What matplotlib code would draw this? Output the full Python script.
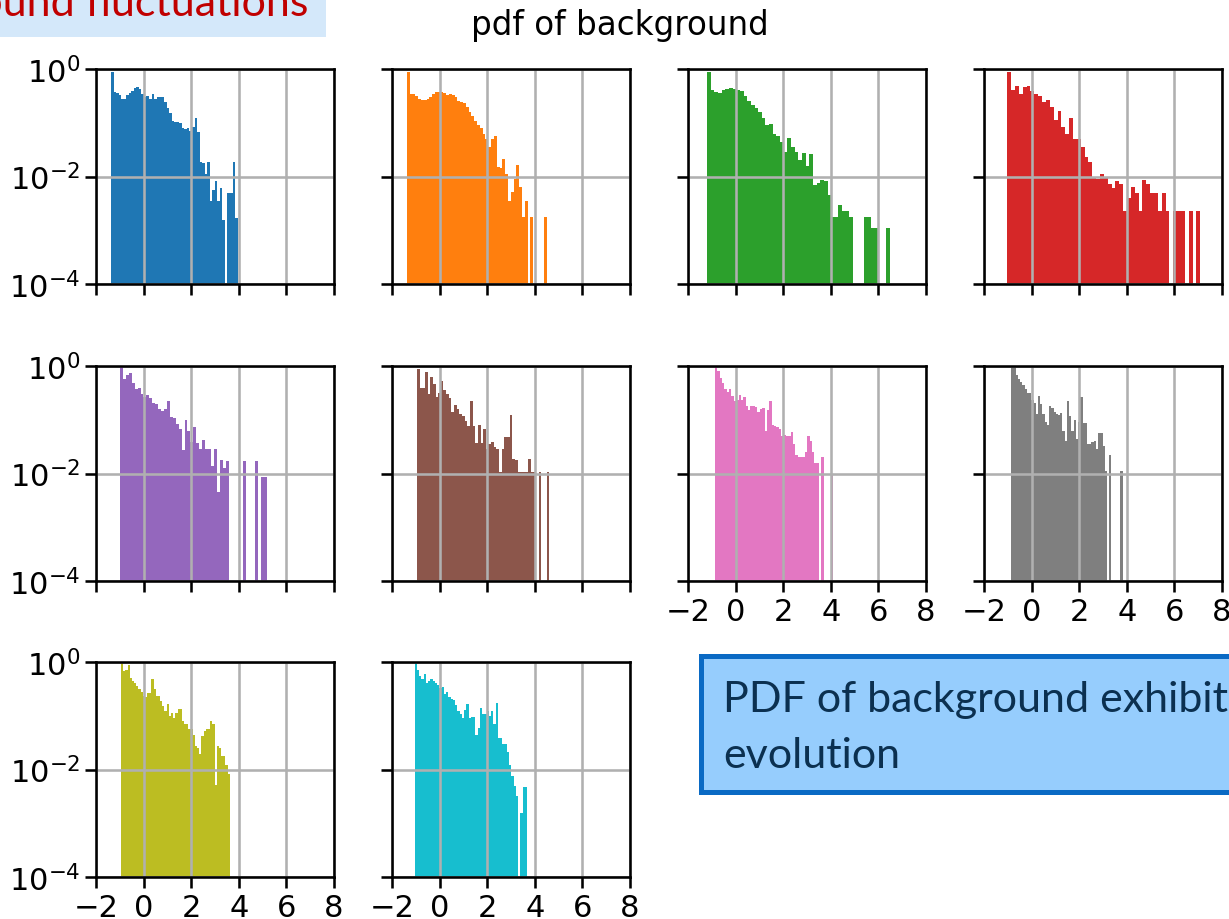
import numpy as np
import matplotlib
matplotlib.use("Agg")
import matplotlib.pyplot as plt
from matplotlib.patches import Rectangle
from matplotlib.ticker import NullLocator

# histogram range (first / last bin edge) and log10(pdf) of the 50 bins, None = empty bin
ranges = [(-1.37, 3.95), (-1.37, 4.52), (-1.20, 6.47), (-1.02, 7.09), (-0.99, 5.17),
          (-0.95, 4.61), (-0.87, 4.10), (-0.85, 3.82), (-0.95, 3.62), (-1.05, 3.68)]

logpdf_0 = [-0.05, -0.42, -0.45, -0.48, -0.55, -0.55, -0.48, -0.45, -0.40, -0.35,
            -0.33, -0.38, -0.46, -0.52, -0.50, -0.55, -0.47, -0.55, -0.52, -0.52,
            -0.52, -0.62, -0.72, -0.82, -0.96, -0.98, -0.98, -1.00, -1.10, -1.12,
            -1.10, -1.15, -1.08, -0.92, -1.17, -1.73, -1.75, -1.95, -1.73, -2.45,
            -2.25, -2.09, -2.45, -2.22, -2.80, None, -2.31, -2.31, -1.73, -2.78]
logpdf_1 = [-0.05, -0.46, -0.47, -0.50, -0.55, -0.57, -0.57, -0.56, -0.52, -0.46,
            -0.43, -0.43, -0.43, -0.44, -0.48, -0.46, -0.48, -0.53, -0.59, -0.61,
            -0.63, -0.70, -0.80, -0.88, -0.96, -1.05, -1.09, -1.20, -1.30, -1.45,
            -1.30, -1.25, -1.83, -1.85, -1.67, -1.95, -2.46, -2.28, -2.05, -1.79,
            -2.20, -2.76, -2.46, None, -2.76, None, None, None, None, -2.76]
logpdf_2 = [-0.05, -0.39, -0.42, -0.45, -0.39, -0.38, -0.36, -0.37, -0.39, -0.41,
            -0.50, -0.60, -0.67, -0.72, -0.80, -0.91, -1.05, -1.02, -1.20, -1.24,
            -1.36, -1.55, -1.28, -1.46, -1.55, -1.70, -1.56, -1.80, -1.59, -2.15,
            -2.12, -2.06, -2.08, -2.34, -2.76, -2.76, -2.53, -2.64, -2.64, -2.76,
            None, None, None, -2.76, -2.76, -2.95, -2.95, None, None, -2.95]
logpdf_3 = [-0.05, -0.39, -0.32, -0.46, -0.34, -0.31, -0.40, -0.46, -0.50, -0.62,
            -0.57, -0.70, -0.94, -0.79, -1.07, -1.20, -0.91, -1.31, -1.31, -1.45,
            -1.63, -1.73, -2.00, -2.04, -1.95, -2.00, -2.14, -2.22, -2.08, -2.14,
            -2.65, -2.40, -2.19, -2.31, -2.65, -2.06, -2.14, -2.31, -2.31, -2.65,
            -2.31, -2.65, None, -2.65, -2.65, -2.65, None, -2.65, None, -2.65]
logpdf_4 = [-0.02, -0.25, -0.17, -0.13, -0.31, -0.42, -0.40, -0.52, -0.57, -0.54,
            -0.59, -0.68, -0.70, -0.80, -0.83, -0.80, -0.65, -0.95, -0.97, -1.08,
            -1.18, -1.57, -1.00, -1.20, -1.41, -1.14, -1.43, -1.55, -1.37, -1.55,
            -1.55, -1.86, -1.55, -2.35, -1.75, -1.89, -1.77, None, None, None,
            None, None, -1.77, None, None, None, -1.77, None, -2.07, -2.07]
logpdf_5 = [-0.05, -0.41, -0.41, -0.12, -0.53, -0.20, -0.33, -0.58, -0.50, -0.28,
            -0.45, -0.52, -0.60, -0.85, -0.72, -0.80, -0.90, -0.93, -1.03, -1.12,
            -0.65, -1.11, -1.44, -1.10, -1.44, -1.18, -1.55, -1.45, -1.42, -1.50,
            -1.55, -1.98, -1.55, -1.33, -1.33, -0.91, -1.73, -1.75, -1.98, -1.98,
            -1.98, -1.98, -1.73, -1.98, -1.98, None, -1.98, None, None, -1.98]
logpdf_6 = [-0.01, -0.10, -0.22, -0.31, -0.43, -0.48, -0.42, -0.55, -0.66, -0.64,
            -0.54, -0.64, -0.58, -0.75, -0.81, -0.75, -0.75, -0.77, -0.86, -0.80,
            -0.78, -1.21, -0.81, -0.65, -1.10, -1.11, -1.13, -1.18, -1.30, -1.28,
            -1.30, -1.30, -1.22, -1.45, -1.65, -1.70, -1.70, -1.70, -1.60, -1.30,
            -1.40, -1.60, -1.80, -1.80, None, -1.70, None, None, None, -2.02]
logpdf_7 = [-0.01, -0.01, -0.17, -0.24, -0.30, -0.36, -0.42, -0.50, -0.50, -0.63,
            -0.68, -0.89, -0.55, -0.70, -0.90, -1.05, -1.10, -0.74, -0.78, -0.86,
            -0.90, -0.92, -0.88, -1.20, -1.40, -0.65, -0.93, -1.20, -1.00, -1.35,
            -1.05, -0.58, -1.06, -1.06, -1.45, -1.45, -1.42, -1.40, -1.54, -1.25,
            -1.25, -1.48, -1.96, None, -1.66, None, None, None, None, -1.96]
logpdf_8 = [-0.01, -0.17, -0.15, -0.06, -0.29, -0.35, -0.39, -0.45, -0.50, -0.55,
            -0.63, -0.66, -0.57, -0.57, -0.32, -0.50, -0.63, -0.63, -0.73, -0.82,
            -0.91, -0.79, -1.01, -0.95, -1.04, -0.95, -0.88, -0.88, -1.10, -1.16,
            -1.16, -1.25, -1.25, -1.35, -1.57, -1.60, -1.72, -1.38, -1.29, -1.25,
            -1.25, -1.10, -1.15, -2.28, -1.57, -1.60, -1.75, -1.75, -1.91, -2.09]
logpdf_9 = [-0.01, -0.14, -0.26, -0.31, -0.23, -0.39, -0.35, -0.31, -0.35, -0.39,
            -0.42, -0.48, -0.46, -0.60, -0.56, -0.66, -0.68, -0.70, -0.80, -0.91,
            -0.97, -1.05, -0.89, -0.79, -1.05, -1.03, -1.03, -1.35, -1.22, -0.85,
            -0.97, -0.97, -0.92, -1.00, -0.92, -1.16, -0.76, -1.41, -1.41, -1.53,
            -1.53, -1.68, -1.91, -2.12, -2.30, -2.49, None, -2.81, -2.32, -2.32]

all_logpdf = [logpdf_0, logpdf_1, logpdf_2, logpdf_3, logpdf_4,
              logpdf_5, logpdf_6, logpdf_7, logpdf_8, logpdf_9]

xticks = [-2, 0, 2, 4, 6, 8]
yticks = [1e-4, 1e-2, 1e0]

W, H = 1229, 920
fig = plt.figure(figsize=(W / 100, H / 100), dpi=100)

col_left = [96, 392, 688, 984]
row_top = [70, 367, 663]
aw, ah = 238, 215

for k in range(10):
    row, col = k // 4, k % 4
    ax = fig.add_axes([col_left[col] / W, 1 - (row_top[row] + ah) / H, aw / W, ah / H])
    ax.set_yscale("log", nonpositive="clip")
    lo, hi = ranges[k]
    vals = np.array([np.nan if v is None else v for v in all_logpdf[k]], dtype=float)
    edges = np.linspace(lo, hi, len(vals) + 1)
    m = np.isfinite(vals)
    ax.bar(edges[:-1][m], 10 ** vals[m], width=np.diff(edges)[m], align="edge",
           color=plt.cm.tab10(k), linewidth=0)
    ax.set_xlim(-2, 8)
    ax.set_ylim(1e-4, 1)
    ax.set_xticks(xticks)
    ax.set_yticks(yticks)
    ax.yaxis.set_minor_locator(NullLocator())
    ax.grid(True, color="#b0b0b0", linewidth=1.85)
    for s in ax.spines.values():
        s.set_linewidth(1.85)
    ax.tick_params(direction="out", length=8, width=1.85, labelsize=22, pad=3.5,
                   labelleft=(col == 0), labelbottom=(k in (6, 7, 8, 9)))

fig.text(620 / W, 1 - 25 / H, "pdf of background", ha="center", va="center", fontsize=23.5)

# slide overlays
fig.patches.append(Rectangle((0, 1 - 38 / H), 326 / W, 38 / H, transform=fig.transFigure,
                             facecolor="#d4e8fa", edgecolor="none", zorder=0))
fig.text(308 / W, 1 - 16 / H, "Background fluctuations", ha="right", va="baseline",
         color="#c00000", fontsize=31, family="Lato")

fig.patches.append(Rectangle((701 / W, 1 - 793 / H), 560 / W, 136 / H, transform=fig.transFigure,
                             facecolor="#96cdfd", edgecolor="#0a6ac4", linewidth=3.6,
                             zorder=5))
fig.text(723 / W, 1 - 712 / H, "PDF of background exhibits", ha="left", va="baseline",
         color="#0b3050", fontsize=31, family="Lato", zorder=6)
fig.text(723 / W, 1 - 768 / H, "evolution", ha="left", va="baseline",
         color="#0b3050", fontsize=31, family="Lato", zorder=6)

fig.savefig("out.png", dpi=100)
